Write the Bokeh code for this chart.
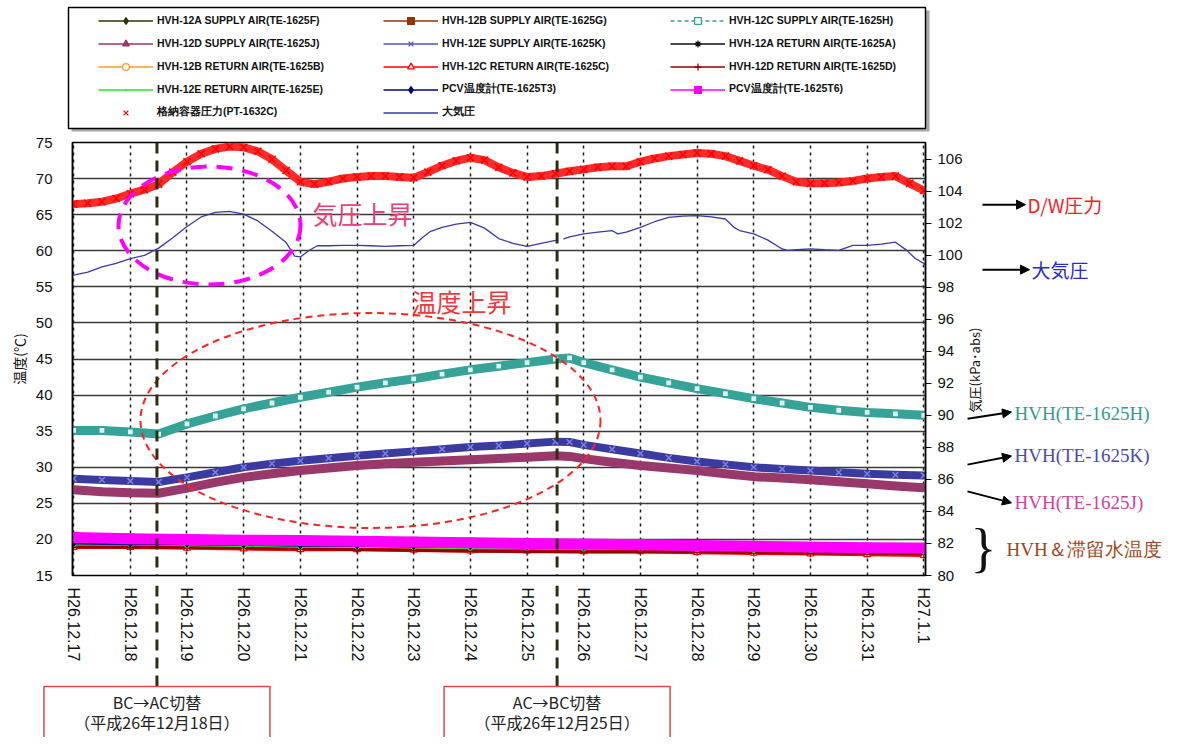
import math
from bokeh.plotting import figure
from bokeh.layouts import column, row
from bokeh.models import (Range1d, LinearAxis, FixedTicker, Legend, LegendItem,
                          Label, Arrow, NormalHead, Span)
from bokeh.core.properties import value
from bokeh.embed import file_html
from bokeh.resources import INLINE

# ---------------- data ----------------
day_ticks = list(range(16))
day_labels = ["H26.12.17", "H26.12.18", "H26.12.19", "H26.12.20", "H26.12.21",
              "H26.12.22", "H26.12.23", "H26.12.24", "H26.12.25", "H26.12.26",
              "H26.12.27", "H26.12.28", "H26.12.29", "H26.12.30", "H26.12.31",
              "H27.1.1"]
temp_ticks = list(range(15, 76, 5))
press_ticks = list(range(80, 107, 2))

# time in days from H26.12.17 00:00
t_quarter = [i * 0.25 for i in range(61)]
t_half = [0.0, 0.5, 1.0, 1.5, 2.0, 2.5, 3.0, 3.5, 4.0, 4.5, 5.0, 5.5, 6.0, 6.5,
          7.0, 7.5, 8.0, 8.5, 8.75, 9.0, 9.5, 10.0, 10.5, 11.0, 11.5, 12.0,
          12.5, 13.0, 13.5, 14.0, 14.5, 15.0]
t_day = list(range(16))

# D/W pressure (kPa abs), right axis
dw_press = [103.2, 103.25, 103.35, 103.55,
            103.85, 104.1, 104.45, 105.2,
            105.85, 106.35, 106.65, 106.8,
            106.75, 106.5, 106.0, 105.3,
            104.6, 104.45, 104.6, 104.8,
            104.9, 104.95, 104.95, 104.9,
            104.85, 105.2, 105.6, 105.9,
            106.1, 105.95, 105.5, 105.15,
            104.9, 104.95, 105.1, 105.25,
            105.37, 105.5, 105.57, 105.57,
            105.85, 106.05, 106.2, 106.3,
            106.4, 106.35, 106.2, 105.9,
            105.6, 105.35, 104.95, 104.6,
            104.5, 104.5, 104.55, 104.65,
            104.8, 104.9, 104.95, 104.5,
            104.05]

# atmospheric pressure (kPa abs), right axis (gap at the switch-over)
t_atm = [0.0, 0.25, 0.5, 0.75, 1.0, 1.25, 1.5, 1.75, 2.0, 2.25, 2.5, 2.75, 3.0,
         3.25, 3.5, 3.75, 3.9, 4.0, 4.15, 4.3, 4.5, 4.75, 5.0, 5.25, 5.5, 5.75,
         6.0, 6.15, 6.3, 6.5, 6.75, 7.0, 7.25, 7.5, 7.75, 8.0, 8.25, 8.5, 8.58,
         8.65, 8.75, 9.0, 9.25, 9.5, 9.6, 9.75, 10.0, 10.25, 10.5, 10.75, 11.0,
         11.25, 11.5, 11.65, 11.75, 12.0, 12.25, 12.5, 12.6, 12.75, 13.0, 13.25,
         13.5, 13.75, 14.0, 14.25, 14.5, 14.7, 14.85, 15.0, 15.05]
atm_press = [98.76, 98.95, 99.28, 99.5, 99.8, 100.0, 100.45, 101.1, 101.8, 102.4,
             102.68, 102.75, 102.58, 102.15, 101.5, 100.8, 99.95, 99.9, 100.3,
             100.6, 100.6, 100.62, 100.62, 100.6, 100.56, 100.6, 100.62, 101.1,
             101.5, 101.75, 101.95, 102.06, 101.7, 101.05, 100.75, 100.56, 100.75,
             100.93, float("nan"), 101.03, 101.15, 101.34, 101.45, 101.55, 101.34,
             101.45, 101.75, 102.1, 102.37, 102.45, 102.48, 102.4, 102.27, 101.75,
             101.55, 101.34, 100.95, 100.4, 100.31, 100.35, 100.41, 100.35, 100.31,
             100.62, 100.62, 100.7, 100.82, 100.31, 99.8, 99.5, 99.38]

# HVH supply air temperatures (deg C) on t_half
sup_12C = [35.1, 35.1, 34.9, 34.6, 36.0, 37.1, 38.1, 38.9, 39.7, 40.4, 41.1, 41.7,
           42.25, 42.9, 43.5, 44.0, 44.5, 45.0, 45.15, 44.5, 43.5, 42.5, 41.7,
           40.9, 40.2, 39.5, 38.9, 38.3, 37.9, 37.6, 37.4, 37.2]
sup_12E = [28.4, 28.25, 28.1, 27.95, 28.6, 29.3, 30.0, 30.5, 30.9, 31.25, 31.6,
           31.9, 32.2, 32.5, 32.8, 33.0, 33.3, 33.55, 33.5, 33.1, 32.5, 31.9,
           31.3, 30.8, 30.4, 30.0, 29.75, 29.55, 29.3, 29.1, 28.95, 28.86]
sup_12D = [26.87, 26.6, 26.45, 26.4, 27.1, 27.9, 28.6, 29.1, 29.55, 29.9, 30.24,
           30.5, 30.7, 30.85, 31.03, 31.2, 31.4, 31.6, 31.5, 31.2, 30.7, 30.24,
           29.9, 29.55, 29.1, 28.7, 28.5, 28.26, 28.0, 27.7, 27.4, 27.15]

# lower group (deg C) on t_day
sup_12A = [19.3, 19.2, 19.2, 19.1, 19.0, 19.0, 18.9, 18.9, 18.8, 18.8, 18.7, 18.7, 18.6, 18.6, 18.5, 18.5]
sup_12B = [19.1, 19.1, 19.0, 19.0, 18.9, 18.8, 18.8, 18.7, 18.7, 18.6, 18.6, 18.5, 18.5, 18.4, 18.4, 18.3]
ret_12A = [19.0, 19.0, 18.9, 18.9, 18.8, 18.7, 18.7, 18.6, 18.6, 18.5, 18.5, 18.4, 18.4, 18.3, 18.3, 18.2]
ret_12B = [19.1, 19.0, 19.0, 18.9, 18.8, 18.8, 18.7, 18.6, 18.6, 18.5, 18.5, 18.4, 18.3, 18.3, 18.2, 18.2]
ret_12C = [18.9, 18.9, 18.8, 18.7, 18.6, 18.6, 18.5, 18.4, 18.4, 18.3, 18.3, 18.2, 18.1, 18.0, 17.9, 17.8]
ret_12D = [19.0, 18.9, 18.9, 18.8, 18.7, 18.6, 18.5, 18.4, 18.3, 18.3, 18.3, 18.3, 18.2, 18.1, 18.1, 18.0]
ret_12E = [19.3, 19.3, 19.2, 19.1, 19.0, 19.0, 18.9, 18.8, 18.8, 18.7, 18.7, 18.6, 18.5, 18.5, 18.4, 18.3]
pcv_T3 = [19.5, 19.4, 19.4, 19.3, 19.2, 19.2, 19.1, 19.1, 19.0, 19.0, 18.9, 18.9, 18.8, 18.8, 18.7, 18.7]
pcv_T6 = [20.25, 20.1, 20.0, 19.9, 19.85, 19.75, 19.65, 19.55, 19.45, 19.35, 19.25, 19.15, 19.05, 18.95, 18.85, 18.8]

switch_days = [1.47, 8.53]
switch_text1 = ["BC→AC切替", "AC→BC切替"]
switch_text2 = ["（平成26年12月18日）", "（平成26年12月25日）"]

# ---------------- geometry ----------------
XR = (-0.02, 15.03)
YR = (15.0, 75.0)
PR = (80.0, 107.05)
FRAME_L, FRAME_W = 72, 853          # main frame in page px
TOP_H, MAIN_H, BOT_H = 132, 453, 152
MAIN_W, SIDE_W = 965, 201
PPD = FRAME_W / (XR[1] - XR[0])     # px per day

def day_at(px):
    return XR[0] + (px - FRAME_L) / PPD

def ty(py):   # page y -> temperature value (main figure)
    return YR[0] + (575.0 - py) * (YR[1] - YR[0]) / 433.0

def dx(px):
    return day_at(px)

COMMON = dict(output_backend="svg", toolbar_location=None, title=None)

# ---------------- main figure ----------------
p = figure(width=MAIN_W, height=MAIN_H, x_range=Range1d(*XR), y_range=Range1d(*YR),
           min_border_left=72, min_border_right=MAIN_W - 72 - FRAME_W,
           min_border_top=10, min_border_bottom=10,
           background_fill_color="white", border_fill_color="white", **COMMON)
p.outline_line_color = "black"
p.outline_line_width = 1.5
p.extra_y_ranges = {"press": Range1d(*PR)}
p.xaxis.visible = False

ya = p.yaxis[0]
ya.ticker = FixedTicker(ticks=temp_ticks)
ya.major_label_text_font = "Liberation Sans"
ya.major_label_text_font_size = "15px"
ya.major_label_text_color = "#111111"
ya.major_label_standoff = 20
ya.major_tick_in = 0
ya.major_tick_out = 0
ya.minor_tick_in = 0
ya.minor_tick_out = 0
ya.axis_line_color = "black"
ya.axis_line_width = 1.5
ya.axis_label = "温度(℃)"
ya.axis_label_text_font = "Noto Sans CJK JP"
ya.axis_label_text_font_style = "normal"
ya.axis_label_text_font_size = "14px"
ya.axis_label_text_color = "#111111"
ya.axis_label_standoff = 4

ax_r = LinearAxis(y_range_name="press", ticker=FixedTicker(ticks=press_ticks))
ax_r.major_label_text_font = "Liberation Sans"
ax_r.major_label_text_font_size = "15px"
ax_r.major_label_text_color = "#111111"
ax_r.major_tick_out = 6
ax_r.major_tick_in = 0
ax_r.minor_tick_in = 0
ax_r.minor_tick_out = 0
ax_r.major_label_standoff = 6
ax_r.axis_line_color = "black"
ax_r.axis_line_width = 1.5
p.add_layout(ax_r, "right")

p.xgrid.ticker = FixedTicker(ticks=day_ticks)
p.xgrid.grid_line_color = "#1a1a1a"
p.xgrid.grid_line_dash = "3 4"
p.xgrid.grid_line_width = 1.5
p.ygrid.ticker = FixedTicker(ticks=temp_ticks)
p.ygrid.grid_line_color = "#3a3a3a"
p.ygrid.grid_line_width = 1.5

OLIVE, BROWN, TEAL, MAROON = "#333300", "#993300", "#35A398", "#99386A"
BLUE_E, BLACK, ORANGE, RED = "#3A3AA0", "#111111", "#FF9933", "#FF0000"
DKRED, GREEN, NAVY, MAGENTA, ATM = "#990000", "#22EE22", "#000080", "#FF00FF", "#3A3AAA"

def ln(fig, t, v, color, width=1.5, dash="solid", yr="default"):
    return fig.line(t, v, line_color=color, line_width=width, line_dash=dash,
                    y_range_name=yr, line_join="round", line_cap="round")

def mk(fig, t, v, marker, color, size, fill=None, yr="default", lw=1.2):
    return fig.scatter(t, v, marker=marker, size=size, line_color=color,
                       fill_color=(fill if fill is not None else color),
                       line_width=lw, y_range_name=yr)

# legend styles: (line colour, line width, dash, marker, marker colour, fill)
leg_style = {
    "HVH-12A SUPPLY AIR(TE-1625F)": (OLIVE, 1.5, "solid", "diamond", OLIVE, OLIVE),
    "HVH-12B SUPPLY AIR(TE-1625G)": (BROWN, 1.5, "solid", "square", BROWN, BROWN),
    "HVH-12C SUPPLY AIR(TE-1625H)": (TEAL, 1.5, "4 3", "square", TEAL, "white"),
    "HVH-12D SUPPLY AIR(TE-1625J)": (MAROON, 1.5, "solid", "triangle", MAROON, MAROON),
    "HVH-12E SUPPLY AIR(TE-1625K)": ("#5050C0", 1.5, "solid", "x", "#5050C0", None),
    "HVH-12A RETURN AIR(TE-1625A)": (BLACK, 1.5, "solid", "asterisk", BLACK, None),
    "HVH-12B RETURN AIR(TE-1625B)": (ORANGE, 1.5, "solid", "circle", ORANGE, "white"),
    "HVH-12C RETURN AIR(TE-1625C)": (RED, 1.5, "solid", "triangle", RED, "white"),
    "HVH-12D RETURN AIR(TE-1625D)": (DKRED, 1.5, "solid", "cross", DKRED, None),
    "HVH-12E RETURN AIR(TE-1625E)": (GREEN, 1.5, "solid", "dot", GREEN, GREEN),
    "PCV温度計(TE-1625T3)": (NAVY, 1.5, "solid", "diamond", NAVY, NAVY),
    "PCV温度計(TE-1625T6)": (MAGENTA, 1.5, "solid", "square", MAGENTA, MAGENTA),
    "格納容器圧力(PT-1632C)": (None, 0, "solid", "x", RED, None),
    "大気圧": (ATM, 1.3, "solid", None, None, None),
}

# lower group
ln(p, t_day, sup_12A, OLIVE, 2.5); mk(p, t_day, sup_12A, "diamond", OLIVE, 6)
ln(p, t_day, sup_12B, BROWN, 2.5); mk(p, t_day, sup_12B, "square", BROWN, 5)
# 12C supply (teal band)
ln(p, t_half, sup_12C, TEAL, 9)
mk(p, t_half, sup_12C, "square", TEAL, 6, fill="#dff1ee")
# 12D supply (maroon band)
ln(p, t_half, sup_12D, MAROON, 9)
mk(p, t_half, sup_12D, "triangle", MAROON, 7)
# 12E supply (blue band)
ln(p, t_half, sup_12E, BLUE_E, 8)
mk(p, t_half, sup_12E, "x", "#8080dd", 8, lw=1.5)
ln(p, t_day, ret_12A, BLACK, 2.5); mk(p, t_day, ret_12A, "asterisk", BLACK, 6)
ln(p, t_day, ret_12B, ORANGE, 2.5); mk(p, t_day, ret_12B, "circle", ORANGE, 6, fill="white")
ln(p, t_day, ret_12C, RED, 3.5); mk(p, t_day, ret_12C, "triangle", RED, 7, fill="white")
ln(p, t_day, ret_12D, DKRED, 3); mk(p, t_day, ret_12D, "cross", DKRED, 8)
ln(p, t_day, ret_12E, GREEN, 2); mk(p, t_day, ret_12E, "circle", GREEN, 4)
ln(p, t_day, pcv_T3, NAVY, 3); mk(p, t_day, pcv_T3, "diamond", NAVY, 7)
ln(p, t_day, pcv_T6, MAGENTA, 11); mk(p, t_day, pcv_T6, "square", MAGENTA, 9)
# D/W pressure
ln(p, t_quarter, dw_press, "#FF2A2A", 8, yr="press")
mk(p, t_quarter, dw_press, "x", RED, 10, yr="press", lw=1.5)
# atmospheric pressure
ln(p, t_atm, atm_press, ATM, 1.3, yr="press")

# ellipses, in-plot texts, switch lines
p.ellipse(x=[dx(209)], y=[ty(225)], width=[182], height=[118],
          width_units="screen", height_units="screen",
          fill_alpha=0, line_color="#FF00FF", line_width=4, line_dash="16 10")
p.ellipse(x=[dx(370)], y=[ty(420)], width=[460], height=[215],
          width_units="screen", height_units="screen",
          fill_alpha=0, line_color="#FF2222", line_width=2, line_dash="7 5")
p.add_layout(Label(x=dx(312), y=ty(212), text="気圧上昇", text_font="Noto Sans CJK JP",
                   text_font_size="25px", text_color="#EC3F75", text_baseline="middle"))
p.add_layout(Label(x=dx(411), y=ty(300), text="温度上昇", text_font="Noto Sans CJK JP",
                   text_font_size="25px", text_color="#F03A3A", text_baseline="middle"))
for sd in switch_days:
    p.add_layout(Span(location=sd, dimension="height", line_color="#2f2f10",
                      line_width=3, line_dash="11 7"))

# ---------------- top figure: legend ----------------
top = figure(width=MAIN_W + SIDE_W, height=TOP_H, x_range=Range1d(0, MAIN_W + SIDE_W),
             y_range=Range1d(TOP_H, 0), x_axis_type=None, y_axis_type=None,
             min_border=0, outline_line_color=None, **COMMON)
top.quad(left=[71], right=[929], top=[10], bottom=[131], fill_color="#a8a8a8", line_alpha=0)
top.quad(left=[68], right=[925], top=[7], bottom=[128], fill_color="white",
         line_color="black", line_width=1.5)

NAN = float("nan")
proxy = {}
for name, (lc, lw, dash, marker, mc, fill) in leg_style.items():
    rs = []
    if lc is not None:
        rs.append(top.line([0], [NAN], line_color=lc, line_width=lw, line_dash=dash))
    if marker is not None:
        rs.append(top.scatter([0], [NAN], marker=marker, size=7, line_color=mc,
                              fill_color=(fill if fill is not None else mc), line_width=1.3))
    proxy[name] = rs

cols = [["HVH-12A SUPPLY AIR(TE-1625F)", "HVH-12D SUPPLY AIR(TE-1625J)",
         "HVH-12B RETURN AIR(TE-1625B)", "HVH-12E RETURN AIR(TE-1625E)", "格納容器圧力(PT-1632C)"],
        ["HVH-12B SUPPLY AIR(TE-1625G)", "HVH-12E SUPPLY AIR(TE-1625K)",
         "HVH-12C RETURN AIR(TE-1625C)", "PCV温度計(TE-1625T3)", "大気圧"],
        ["HVH-12C SUPPLY AIR(TE-1625H)", "HVH-12A RETURN AIR(TE-1625A)",
         "HVH-12D RETURN AIR(TE-1625D)", "PCV温度計(TE-1625T6)"]]
col_x = [98, 383, 670]
for cx, names in zip(col_x, cols):
    n = len(names)
    hgt = n * 17 + (n - 1) * 6
    leg = Legend(items=[LegendItem(label=nm, renderers=proxy[nm]) for nm in names],
                 location=(cx, TOP_H - 11.5 - hgt), orientation="vertical",
                 padding=0, margin=0, spacing=6, glyph_width=55, glyph_height=17,
                 label_height=17, label_standoff=4, label_width=20,
                 label_text_font="Liberation Sans", label_text_font_style="bold",
                 label_text_font_size="10.5px", label_text_color="#111111",
                 border_line_alpha=0, background_fill_alpha=0)
    top.add_layout(leg)

# ---------------- side figure: right annotations ----------------
side = figure(width=SIDE_W, height=MAIN_H, x_range=Range1d(MAIN_W, MAIN_W + SIDE_W),
              y_range=Range1d(TOP_H + MAIN_H, TOP_H), x_axis_type=None, y_axis_type=None,
              min_border=0, outline_line_color=None, **COMMON)
side.add_layout(Label(x=974, y=370, text="気圧(kPa･abs)", angle=math.pi / 2,
                      text_align="center", text_baseline="middle",
                      text_font="Noto Sans CJK JP", text_font_size="13px", text_color="#111111"))

def arrow(x0, y0, x1, y1):
    side.add_layout(Arrow(end=NormalHead(size=9, fill_color="black", line_color="black", line_width=1),
                          x_start=x0, y_start=y0, x_end=x1, y_end=y1,
                          line_color="black", line_width=2))

def rlabel(x, y, text, color, font, size):
    side.add_layout(Label(x=x, y=y, text=text, text_color=color, text_font=font,
                          text_font_size=size, text_baseline="middle", text_align="left"))

arrow(982, 197, 1025, 197)
rlabel(1027, 197, "D/W圧力", "#EE2222", "Noto Sans CJK JP", "19px")
arrow(982, 265, 1029, 265)
rlabel(1031, 265, "大気圧", "#2B2BCC", "Noto Sans CJK JP", "19px")
arrow(967, 421, 1011, 414)
rlabel(1014, 416, "HVH(TE-1625H)", "#2F9E8F", "Liberation Serif", "19px")
arrow(967, 469, 1011, 460)
rlabel(1014, 459, "HVH(TE-1625K)", "#4A4AB0", "Liberation Serif", "19px")
arrow(967, 497, 1011, 509)
rlabel(1014, 509, "HVH(TE-1625J)", "#CC4499", "Liberation Serif", "19px")
side.add_layout(Label(x=983, y=556, text="}", text_align="center", text_baseline="middle",
                      text_font="Liberation Serif", text_font_size="54px", text_color="#111111"))
rlabel(1006, 558, "HVH＆滞留水温度", "#A0451A", "Liberation Serif", "19px")

# ---------------- bottom figure: date labels and switch boxes ----------------
TOT_W = MAIN_W + SIDE_W
y_b0 = TOP_H + MAIN_H
bot = figure(width=TOT_W, height=BOT_H, x_range=Range1d(day_at(0), day_at(TOT_W)),
             y_range=Range1d(y_b0 + BOT_H, y_b0), x_axis_type=None, y_axis_type=None,
             min_border=0, outline_line_color=None, **COMMON)
bot.text(x=day_ticks, y=y_b0 + 2, text=day_labels, angle=-math.pi / 2,
         text_align="left", text_baseline="middle", text_font=value("Liberation Sans"),
         text_font_size=value("16px"), text_color="#111111")
bot.segment(x0=switch_days, y0=y_b0, x1=switch_days, y1=686, line_color="#2f2f10",
            line_width=3, line_dash="11 7")
half_box = 113 / PPD
bot.quad(left=[d - half_box for d in switch_days], right=[d + half_box for d in switch_days],
         top=686, bottom=760, fill_color="white", line_color="#E04848", line_width=1.5)
bot.text(x=switch_days, y=701, text=switch_text1, text_align="center", text_baseline="middle",
         text_font=value("Noto Sans CJK JP"), text_font_size=value("16px"), text_color="#222222")
bot.text(x=switch_days, y=721, text=switch_text2, text_align="center", text_baseline="middle",
         text_font=value("Noto Sans CJK JP"), text_font_size=value("16px"), text_color="#222222")

layout = column(top, row(p, side), bot)
open("out.html", "w").write(file_html(layout, INLINE))
